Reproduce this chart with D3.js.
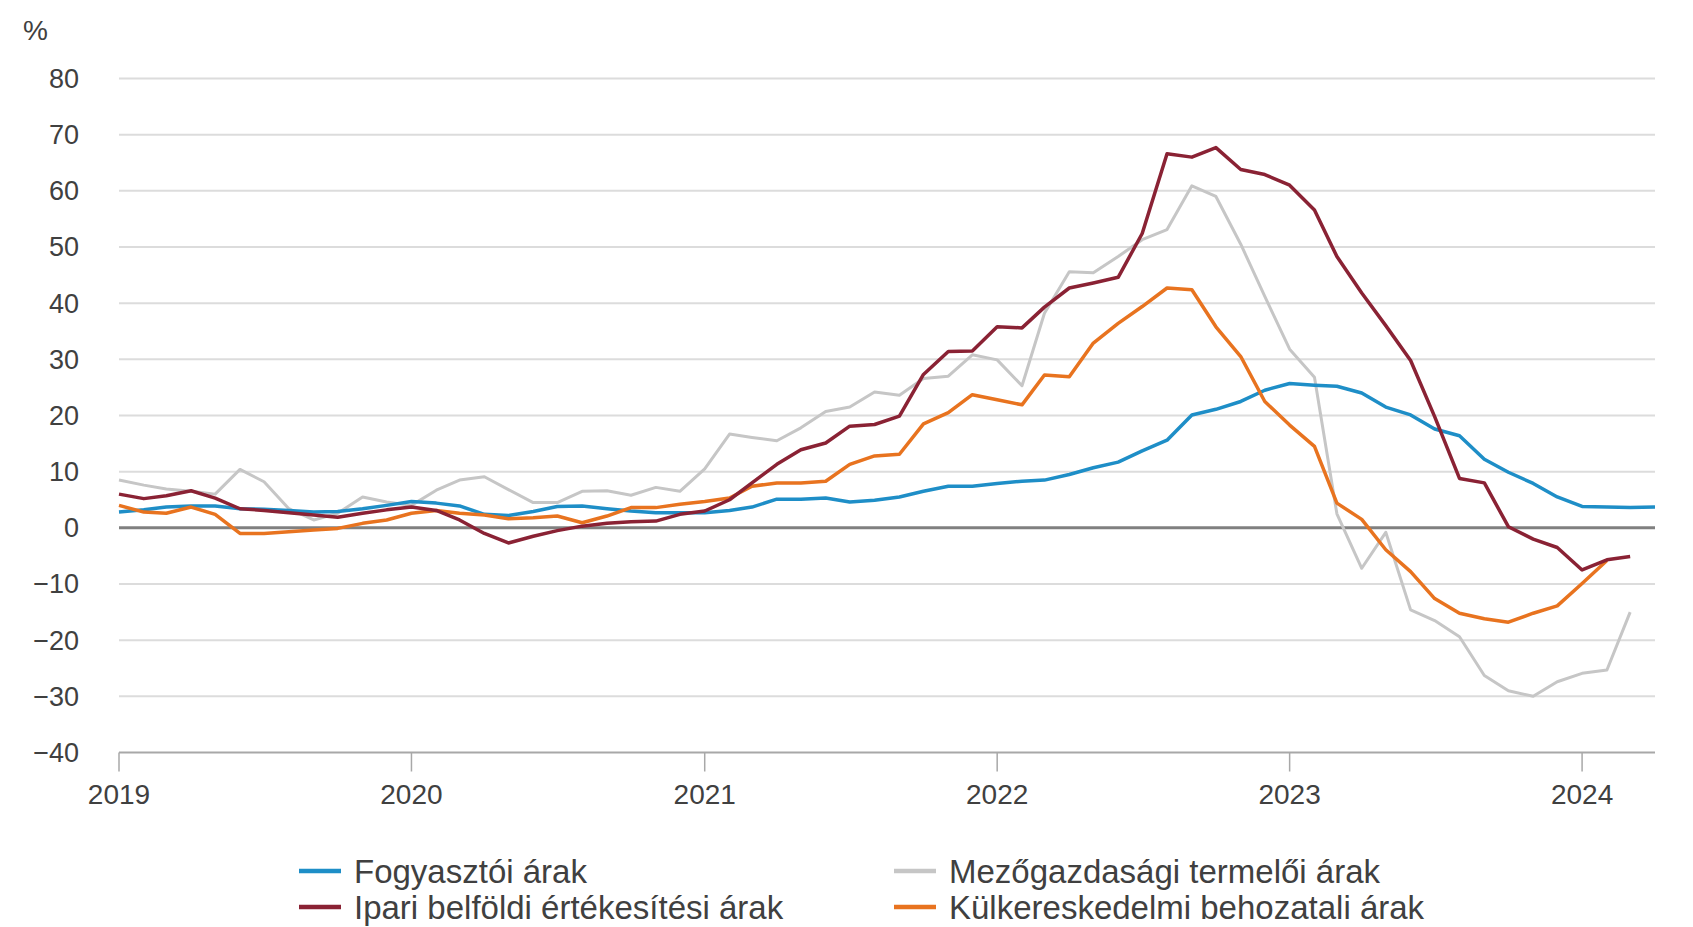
<!DOCTYPE html>
<html lang="hu">
<head>
    <meta charset="UTF-8">
    <title>Árak változása</title>
    <script src="https://d3js.org/d3.v7.min.js"></script>
    <style>
        body { margin: 0; background: #fff; }
        text { font-family: "Liberation Sans", Arial, sans-serif; fill: #404040; }
    </style>
</head>
<body>
    <svg id="chart" width="1693" height="927"></svg>

    <script>
        // havi adatok, 2019. január - 2024. április
        const months = d3.timeMonth.range(new Date(2019, 0, 1), new Date(2024, 4, 1));

        const fogyasztoi = [
            2.8, 3.2, 3.7, 3.9, 3.9, 3.4, 3.3, 3.1, 2.8, 2.9, 3.4, 4.0,
            4.7, 4.4, 3.9, 2.4, 2.2, 2.9, 3.8, 3.9, 3.4, 3.0, 2.7, 2.7,
            2.7, 3.1, 3.7, 5.1, 5.1, 5.3, 4.6, 4.9, 5.5, 6.5, 7.4, 7.4,
            7.9, 8.3, 8.5, 9.5, 10.7, 11.7, 13.7, 15.6, 20.1, 21.1, 22.5, 24.5,
            25.7, 25.4, 25.2, 24.0, 21.5, 20.1, 17.6, 16.4, 12.2, 9.9, 7.9, 5.5,
            3.8, 3.7, 3.6, 3.7
        ];
        const ipari = [
            6.0, 5.2, 5.7, 6.6, 5.3, 3.4, 3.1, 2.7, 2.3, 1.9, 2.6, 3.2,
            3.7, 3.1, 1.4, -1.0, -2.7, -1.5, -0.5, 0.3, 0.8, 1.1, 1.2, 2.4,
            3.0, 5.0, 8.0, 11.3, 13.9, 15.1, 18.1, 18.4, 19.9, 27.3, 31.4, 31.5,
            35.8, 35.6, 39.3, 42.7, 43.6, 44.6, 52.4, 66.6, 66.0, 67.7, 63.8, 62.9,
            61.0, 56.6, 48.3, 41.8, 36.0, 29.8, 19.8, 8.8, 8.0, 0.2, -2.0, -3.5,
            -7.5, -5.7, -5.1
        ];
        const mezogazdasagi = [
            8.5, 7.6, 6.9, 6.5, 6.0, 10.4, 8.2, 3.4, 1.4, 2.6, 5.5, 4.6,
            4.0, 6.7, 8.5, 9.1, 6.8, 4.5, 4.5, 6.5, 6.6, 5.8, 7.2, 6.5,
            10.5, 16.7, 16.1, 15.5, 17.8, 20.7, 21.5, 24.2, 23.6, 26.6, 27.0, 30.8,
            29.9, 25.3, 38.2, 45.6, 45.4, 48.3, 51.3, 53.1, 60.9, 59.0, 50.5, 41.2,
            31.8, 26.8, 2.5, -7.2, -0.8, -14.6, -16.5, -19.4, -26.3, -29.0, -30.0, -27.4,
            -25.9, -25.3, -15.0
        ];
        const kulkereskedelmi = [
            4.0, 2.8, 2.6, 3.7, 2.4, -1.0, -1.0, -0.7, -0.4, -0.1, 0.8, 1.4,
            2.6, 3.1, 2.6, 2.3, 1.6, 1.8, 2.1, 0.9, 2.1, 3.6, 3.6, 4.2,
            4.7, 5.3, 7.4, 8.0, 8.0, 8.3, 11.3, 12.8, 13.1, 18.5, 20.5, 23.7,
            22.8, 21.9, 27.2, 26.9, 32.9, 36.4, 39.4, 42.7, 42.4, 35.8, 30.5, 22.5,
            18.3, 14.5, 4.4, 1.5, -3.9, -7.8, -12.6, -15.2, -16.2, -16.8, -15.2, -13.9,
            -9.9, -5.8
        ];

        const yTicks = [80, 70, 60, 50, 40, 30, 20, 10, 0, -10, -20, -30, -40];
        const xTickYears = [2019, 2020, 2021, 2022, 2023, 2024];

        const series = [
            {name: "Mezőgazdasági termelői árak", values: mezogazdasagi, color: "#c6c6c6", width: 3},
            {name: "Fogyasztói árak", values: fogyasztoi, color: "#1e8ec7", width: 3.5},
            {name: "Külkereskedelmi behozatali árak", values: kulkereskedelmi, color: "#e8731f", width: 3.5},
            {name: "Ipari belföldi értékesítési árak", values: ipari, color: "#8a2234", width: 3.5}
        ];

        const svg = d3.select("#chart"),
            plotLeft = 119, plotRight = 1655, plotTop = 78.5, plotBottom = 752.5;

        const x = d3.scaleTime()
            .domain([new Date(2019, 0, 1), new Date(2024, 3, 1)])
            .range([plotLeft, plotRight]);

        const y = d3.scaleLinear()
            .domain([-40, 80])
            .range([plotBottom, plotTop]);

        // rácsvonalak
        svg.append("g")
            .selectAll("line")
            .data(yTicks.filter(d => d !== 0 && d !== -40))
            .enter().append("line")
            .attr("x1", plotLeft).attr("x2", plotRight)
            .attr("y1", d => y(d)).attr("y2", d => y(d))
            .attr("stroke", "#dcdcdc")
            .attr("stroke-width", 2);

        svg.append("g")
            .selectAll("text")
            .data(yTicks)
            .enter().append("text")
            .attr("x", 79)
            .attr("y", d => y(d))
            .attr("dy", "0.35em")
            .attr("text-anchor", "end")
            .attr("font-size", 27)
            .text(d => d < 0 ? "\u2212" + Math.abs(d) : d);

        svg.append("text")
            .attr("x", 23)
            .attr("y", 40)
            .attr("font-size", 28)
            .text("%");

        // x tengely
        const xAxis = svg.append("g");
        xAxis.append("line")
            .attr("x1", plotLeft).attr("x2", plotRight)
            .attr("y1", y(-40)).attr("y2", y(-40))
            .attr("stroke", "#a8a8a8")
            .attr("stroke-width", 2);

        xAxis.selectAll(".tick")
            .data(xTickYears)
            .enter().append("line")
            .attr("x1", d => x(new Date(d, 0, 1)))
            .attr("x2", d => x(new Date(d, 0, 1)))
            .attr("y1", y(-40))
            .attr("y2", y(-40) + 19)
            .attr("stroke", "#a8a8a8")
            .attr("stroke-width", 1.5);

        xAxis.selectAll("text")
            .data(xTickYears)
            .enter().append("text")
            .attr("x", d => x(new Date(d, 0, 1)))
            .attr("y", 804)
            .attr("text-anchor", "middle")
            .attr("font-size", 28)
            .text(d => d);

        // nulla vonal
        svg.append("line")
            .attr("x1", plotLeft).attr("x2", plotRight)
            .attr("y1", y(0)).attr("y2", y(0))
            .attr("stroke", "#808080")
            .attr("stroke-width", 3);

        const line = d3.line()
            .x((d, i) => x(months[i]))
            .y(d => y(d));

        svg.append("g")
            .selectAll("path")
            .data(series)
            .enter().append("path")
            .attr("fill", "none")
            .attr("stroke", d => d.color)
            .attr("stroke-width", d => d.width)
            .attr("stroke-linejoin", "round")
            .attr("d", d => line(d.values));

        // jelmagyarázat
        const legendItems = [
            {name: "Fogyasztói árak", color: "#1e8ec7", col: 0, row: 0},
            {name: "Mezőgazdasági termelői árak", color: "#c6c6c6", col: 1, row: 0},
            {name: "Ipari belföldi értékesítési árak", color: "#8a2234", col: 0, row: 1},
            {name: "Külkereskedelmi behozatali árak", color: "#e8731f", col: 1, row: 1}
        ];
        const legendX = [299, 894], legendY = [871, 907];

        const legend = svg.append("g")
            .selectAll("g")
            .data(legendItems)
            .enter().append("g")
            .attr("transform", d => `translate(${legendX[d.col]}, ${legendY[d.row]})`);

        legend.append("line")
            .attr("x1", 0).attr("x2", 42)
            .attr("stroke", d => d.color)
            .attr("stroke-width", 4.5);

        legend.append("text")
            .attr("x", 55)
            .attr("dy", "0.35em")
            .attr("font-size", 33)
            .text(d => d.name);
    </script>
</body>
</html>
